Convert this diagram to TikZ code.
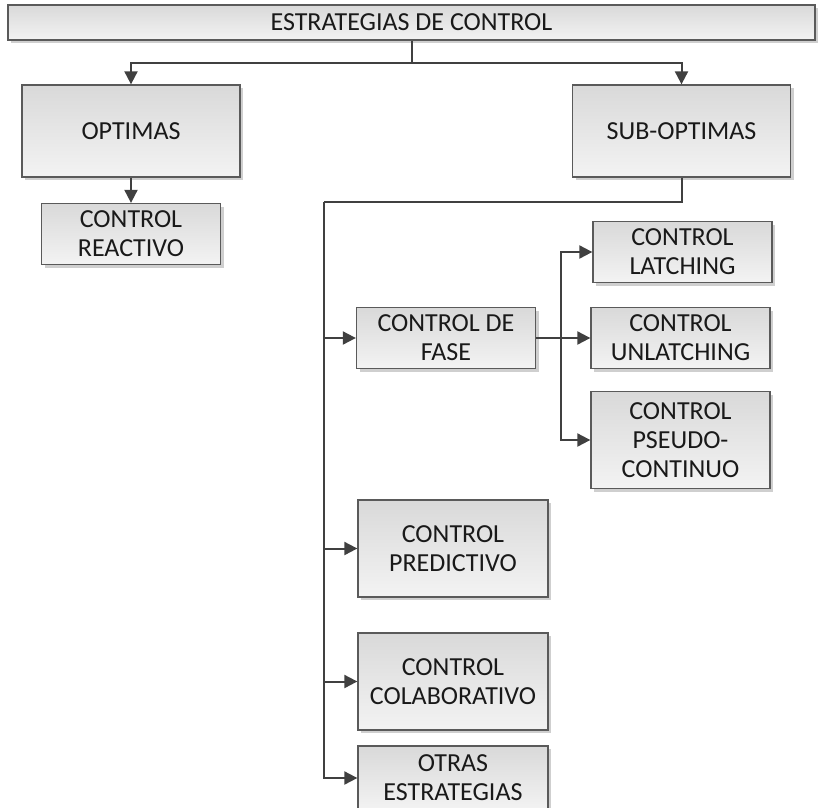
\documentclass[tikz,border=0pt]{standalone}
\usepackage{fontspec}
\setmainfont{Carlito}
\usetikzlibrary{arrows.meta,positioning,shadows}
\definecolor{boxline}{HTML}{5A5A5A}
\definecolor{boxtop}{HTML}{D9D9D9}
\definecolor{boxbot}{HTML}{F3F3F3}
\definecolor{shadowgray}{HTML}{CFCFCF}
\definecolor{wiregray}{HTML}{404040}

\begin{document}
\begin{tikzpicture}[x=1pt,y=-1pt,>={Triangle[length=13pt,width=13pt]},on grid,
  font=\fontsize{26}{29}\selectfont,
  box/.style={draw=boxline,line width=1.3pt,top color=boxtop,bottom color=boxbot,
    text=black!90,align=center,inner sep=0pt,
    drop shadow={shadow xshift=3pt,shadow yshift=-3pt,fill=shadowgray,opacity=1}},
  wide/.style={box,minimum width=218pt,minimum height=92pt},
  small/.style={box,minimum width=179pt,minimum height=61pt},
  tall/.style={box,minimum width=179pt,minimum height=97pt},
  big/.style={box,minimum width=190pt,minimum height=97pt},
  link/.style={draw=wiregray,line width=2pt}]
  \useasboundingbox (0,0) rectangle (823,807);
  \node[box,minimum width=807pt,minimum height=35pt] (title) at (411.5,22.5) {ESTRATEGIAS DE CONTROL};
  \node[wide]   (opt)     at (131,131)                  {OPTIMAS};
  \node[wide]   (sub)     [right =550.5pt of opt]       {SUB-OPTIMAS};
  \node[small]  (reac)    [below =103pt of opt]         {CONTROL\\REACTIVO};
  \node[small]  (fase)    at (446,338)                  {CONTROL DE\\FASE};
  \node[small]  (unlatch) [right =234.5pt of fase]      {CONTROL\\UNLATCHING};
  \node[small]  (latch)   [above right =86pt and 2pt of unlatch] {CONTROL\\LATCHING};
  \node[tall]   (pseudo)  [below =102pt of unlatch]     {CONTROL\\PSEUDO-\\CONTINUO};
  \node[big]    (pred)    at (453,548.5)                {CONTROL\\PREDICTIVO};
  \node[big]    (colab)   [below =133pt of pred]        {CONTROL\\COLABORATIVO};
  \node[big,minimum height=64pt] (otras) [below =96.5pt of colab] {OTRAS\\ESTRATEGIAS};
  % top level
  \draw[link] (title.south) -- ++(0,22) coordinate (split);
  \draw[link,->] (split) -| (opt.north);
  \draw[link,->] (split) -| (sub.north);
  \draw[link,->] (opt.south) -- (reac.north);
  % sub-optimas trunk
  \coordinate (trunk) at (324,202);
  \draw[link] (sub.south) |- (trunk);
  \draw[link,->] (trunk) |- (otras.west);
  \foreach \n in {fase,pred,colab}
    \draw[link,->] (trunk |- \n.west) -- (\n.west);
  % control de fase
  \coordinate (fork) at (561,338);
  \draw[link] (fase.east) -- (fork);
  \foreach \n in {latch,unlatch,pseudo}
    \draw[link,->] (fork) |- (\n.west);
\end{tikzpicture}
\end{document}
